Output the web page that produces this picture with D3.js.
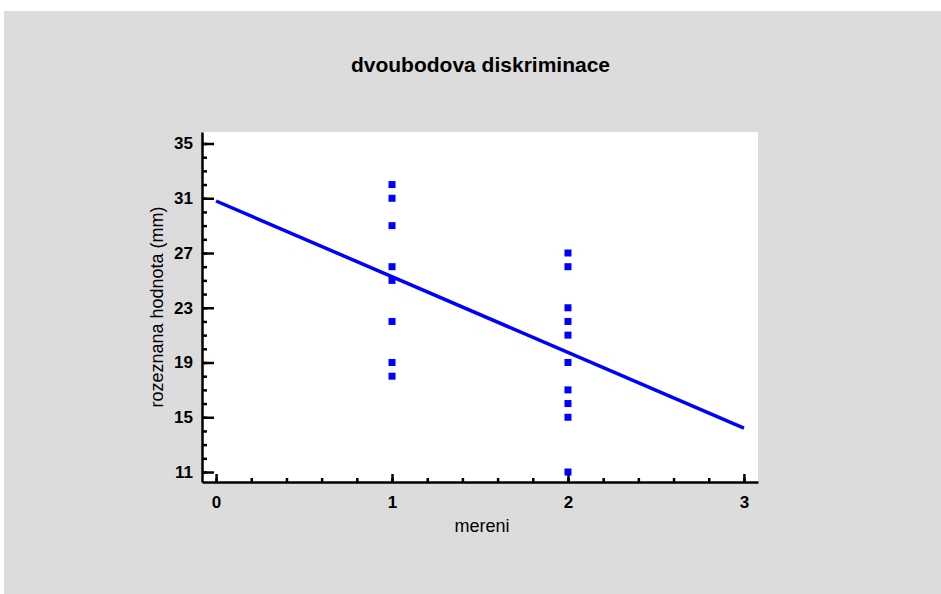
<!DOCTYPE html>
<html>
<head>
<meta charset="utf-8">
<script src="https://cdn.jsdelivr.net/npm/d3@7"></script>
<style>
  body { margin: 0; background: #fff; }
  svg { display: block; font-family: "Liberation Sans", Arial, sans-serif; }
</style>
</head>
<body>
<div id="chart"></div>
<script>
// measured values
const measX = [1, 1, 1, 1, 1, 1, 1, 1, 2, 2, 2, 2, 2, 2, 2, 2, 2, 2];
const measY = [32, 31, 29, 26, 25, 22, 19, 18, 27, 26, 23, 22, 21, 19, 17, 16, 15, 11];

// fitted line
const fitX = [0, 3];
const fitY = [30.8, 14.2];

// ticks
const xTicks = [0, 1, 2, 3];
const yTicks = [11, 15, 19, 23, 27, 31, 35];

const W = 941, H = 594;
const plotL = 202, plotR = 758, plotT = 132, plotB = 482;

const svg = d3.select("#chart").append("svg")
    .attr("width", W)
    .attr("height", H);

svg.append("rect")
    .attr("x", 4).attr("y", 11)
    .attr("width", W - 4).attr("height", H - 11)
    .attr("fill", "#dcdcdc");

svg.append("rect")
    .attr("x", plotL).attr("y", plotT)
    .attr("width", plotR - plotL).attr("height", plotB - plotT)
    .attr("fill", "#fff");

const x = d3.scaleLinear().domain([-0.08, 3.08]).range([plotL, plotR]);
const y = d3.scaleLinear().domain([10.27, 35.84]).range([plotB, plotT]);

// minor ticks
svg.append("g")
    .attr("transform", `translate(${plotL},0)`)
    .call(d3.axisLeft(y).tickValues(d3.range(11, 36, 1)).tickSize(-5).tickFormat(""))
    .call(g => g.select(".domain").remove())
    .call(g => g.selectAll("line").attr("stroke", "#000").attr("stroke-width", 2.5));

svg.append("g")
    .attr("transform", `translate(0,${plotB})`)
    .call(d3.axisBottom(x).tickValues(d3.range(0, 3.01, 0.2)).tickSize(-4).tickFormat(""))
    .call(g => g.select(".domain").remove())
    .call(g => g.selectAll("line").attr("stroke", "#000").attr("stroke-width", 2.5));

// major ticks + labels
svg.append("g")
    .attr("transform", `translate(${plotL},0)`)
    .call(d3.axisLeft(y).tickValues(yTicks).tickFormat(d3.format("d"))
        .tickSizeInner(-12).tickSizeOuter(0).tickPadding(9))
    .call(g => g.select(".domain").attr("stroke", "#000").attr("stroke-width", 2.5))
    .call(g => g.selectAll("line").attr("stroke", "#000").attr("stroke-width", 2.5))
    .call(g => g.selectAll("text")
        .attr("fill", "#000")
        .style("font-size", "17px")
        .style("font-weight", "bold")
        .style("font-family", "'Liberation Sans', Arial, sans-serif"));

svg.append("g")
    .attr("transform", `translate(0,${plotB})`)
    .call(d3.axisBottom(x).tickValues(xTicks).tickFormat(d3.format("d"))
        .tickSizeInner(-8).tickSizeOuter(0).tickPadding(14))
    .call(g => g.select(".domain").attr("stroke", "#000").attr("stroke-width", 2.5))
    .call(g => g.selectAll("line").attr("stroke", "#000").attr("stroke-width", 2.5))
    .call(g => g.selectAll("text")
        .attr("fill", "#000")
        .style("font-size", "17px")
        .style("font-weight", "bold")
        .style("font-family", "'Liberation Sans', Arial, sans-serif"));

// fitted line
const fit = fitX.map((d, i) => ({ x: d, y: fitY[i] }));
svg.append("path")
    .datum(fit)
    .attr("fill", "none")
    .attr("stroke", "#0000ff")
    .attr("stroke-width", 3.5)
    .attr("d", d3.line().x(d => x(d.x)).y(d => y(d.y)));

// points
const pts = measX.map((d, i) => ({ x: d, y: measY[i] }));
svg.append("g").selectAll("rect")
    .data(pts)
    .join("rect")
    .attr("x", d => x(d.x) - 3.5)
    .attr("y", d => y(d.y) - 3.5)
    .attr("width", 7)
    .attr("height", 7)
    .attr("fill", "#0000ff");

// texts
svg.append("text")
    .attr("x", 480.5)
    .attr("y", 72)
    .attr("text-anchor", "middle")
    .style("font-size", "21px")
    .style("font-weight", "bold")
    .text("dvoubodova diskriminace");

svg.append("text")
    .attr("x", (plotL + plotR) / 2 + 2)
    .attr("y", 532)
    .attr("text-anchor", "middle")
    .style("font-size", "18px")
    .text("mereni");

svg.append("text")
    .attr("transform", `translate(163,${(plotT + plotB) / 2}) rotate(-90)`)
    .attr("text-anchor", "middle")
    .style("font-size", "18px")
    .text("rozeznana hodnota (mm)");
</script>
</body>
</html>
